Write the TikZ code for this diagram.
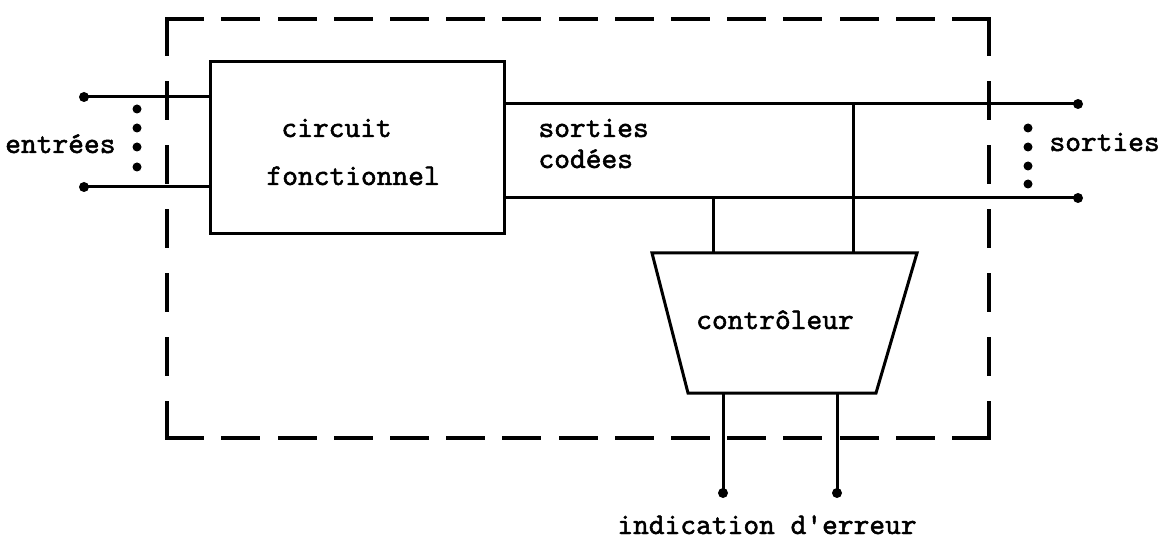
\documentclass[tikz,border=0pt]{standalone}
\usepackage{fontspec}
\newfontface\typew{lmmono10-regular.otf}[FakeBold=1.6]
\begin{document}
\begin{tikzpicture}[x=1pt,y=-1pt, line width=3pt,
  txt/.style={font=\fontsize{30}{36}\selectfont\typew, inner sep=0pt},
  term/.style={circle, fill=black, inner sep=0pt, minimum size=10pt},
  ell/.style={circle, fill=black, inner sep=0pt, minimum size=9pt},
  hdash/.style={line width=3.5pt, line cap=rect, dash pattern=on 35.4pt off 20.8pt},
  vdash/.style={line width=3.5pt, line cap=rect, dash pattern=on 34.9pt off 29.1pt},
  blockbox/.style={draw, line width=3pt, inner sep=0pt}]
\useasboundingbox (0,0) rectangle (1162,540);
% dashed enclosure
\coordinate (tl) at (167,19);
\coordinate (tr) at (989,19);
\coordinate (bl) at (167,438);
\coordinate (br) at (989,438);
\draw[hdash] (tl) -- (tr);
\draw[hdash] (bl) -- (br);
\draw[vdash] (tl) -- (bl);
\draw[vdash] (tr) -- (br);
% functional circuit
\node[blockbox, minimum width=294pt, minimum height=172pt] (fc) at (357,148) {};
\node[txt, anchor=base west] (l1) at (280,137) {circuit};
\node[txt, anchor=base west] (l2) at (265,185) {fonctionnel};
% inputs
\node[term] (i1) at (84,97) {};
\node[term] (i2) at (84,187) {};
\draw (i1.center) -- (fc.west |- i1);
\draw (i2.center) -- (fc.west |- i2);
\foreach \y [count=\k] in {109,128,147,167} \node[ell] (ei\k) at (137,\y) {};
\node[txt, anchor=base east] (ent) at (117,153) {entrées};
% outputs
\node[term] (o1) at (1078,104) {};
\node[term] (o2) at (1078,198) {};
\draw (fc.east |- o1) -- (o1.center);
\draw (fc.east |- o2) -- (o2.center);
\foreach \y [count=\k] in {128,147,166,184} \node[ell] (eo\k) at (1028,\y) {};
\node[txt, anchor=base west] (sor) at (1048,151) {sorties};
\node[txt, anchor=base west] (sc1) at (537,137) {sorties};
\node[txt, anchor=base west] (sc2) at (537,168) {codées};
% controller
\coordinate (c1) at (652,253);
\coordinate (c2) at (917,253);
\coordinate (c3) at (876,393);
\coordinate (c4) at (688,393);
\draw[line join=miter] (c1) -- (c2) -- (c3) -- (c4) -- cycle;
\node[txt, anchor=base] (ctrl) at (775,329) {contrôleur};
\coordinate (j1) at (713,198);
\coordinate (j2) at (853,104);
\draw (j1) -- (j1 |- c1);
\draw (j2) -- (j2 |- c1);
% error indication
\node[term] (e1) at (723,493) {};
\node[term] (e2) at (837,493) {};
\draw (e1 |- c4) -- (e1.center);
\draw (e2 |- c4) -- (e2.center);
\node[txt, anchor=base] (err) at (767,534) {indication d'erreur};
\end{tikzpicture}
\end{document}
